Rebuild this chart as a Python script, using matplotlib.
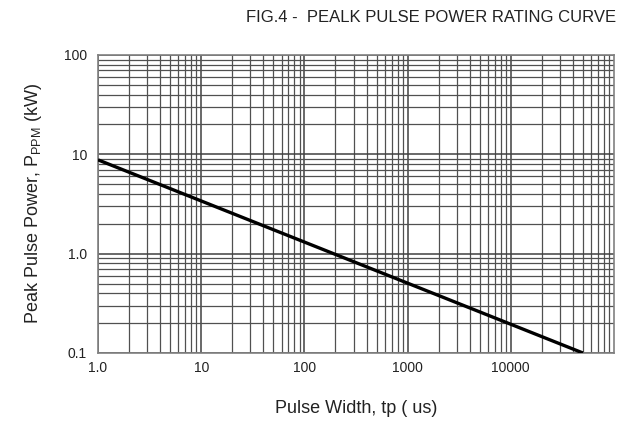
import numpy as np
import matplotlib
matplotlib.use('Agg')
import matplotlib.pyplot as plt
from matplotlib.ticker import FixedLocator, FixedFormatter, LogLocator, NullFormatter

# curve end points (log-log straight line)
pulse_width = [1.0, 50000.0]
peak_power = [8.8, 0.1]

x_ticks = [1, 10, 100, 1000, 10000]
x_labels = ['1.0', '10', '100', '1000', '10000']
y_ticks = [0.1, 1, 10, 100]
y_labels = ['0.1', '1.0', '10', '100']

plt.rcParams['font.family'] = ['Liberation Sans', 'DejaVu Sans']

fig = plt.figure(figsize=(6.18, 4.23), dpi=100)
ax = fig.add_axes([98/618, 1 - 353/423, (614 - 98)/618, (353 - 55)/423])

ax.set_xscale('log')
ax.set_yscale('log')
ax.set_xlim(1, 1e5)
ax.set_ylim(0.1, 100)

grid_color = '#505050'
ax.xaxis.set_major_locator(FixedLocator(x_ticks))
ax.xaxis.set_major_formatter(FixedFormatter(x_labels))
ax.yaxis.set_major_locator(FixedLocator(y_ticks))
ax.yaxis.set_major_formatter(FixedFormatter(y_labels))
ax.xaxis.set_minor_locator(LogLocator(base=10, subs=np.arange(2, 10), numticks=20))
ax.yaxis.set_minor_locator(LogLocator(base=10, subs=np.arange(2, 10), numticks=20))
ax.xaxis.set_minor_formatter(NullFormatter())
ax.yaxis.set_minor_formatter(NullFormatter())

ax.grid(True, which='major', color='#404040', linewidth=1.1)
ax.grid(True, which='minor', color=grid_color, linewidth=0.9)
ax.tick_params(which='both', length=0, labelsize=10, colors='#222222', pad=6)
ax.tick_params(axis='y', pad=8)
for s in ax.spines.values():
    s.set_color('#808080')
    s.set_linewidth(1.2)

ax.plot(pulse_width, peak_power, color='black', linewidth=2.4,
        solid_capstyle='butt', zorder=5)

ax.set_xlabel('Pulse Width, tp ( us)', fontsize=13, color='#222222', labelpad=18)
ax.set_ylabel(r'Peak Pulse Power, P$_{\mathregular{PPM}}$ (kW)', fontsize=13,
              color='#222222', labelpad=14)
fig.text(431/618, 1 - 18/423, 'FIG.4 -  PEALK PULSE POWER RATING CURVE',
         ha='center', va='center', fontsize=12, color='#222222')

fig.savefig('out.png', dpi=100)
